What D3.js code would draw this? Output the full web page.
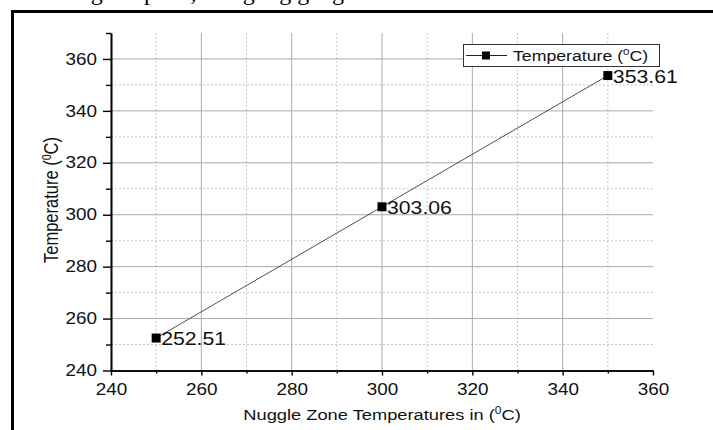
<!DOCTYPE html>
<html>
<head>
  <meta charset="utf-8">
  <title>Nuggle zone temperature</title>
  <script src="https://d3js.org/d3.v7.min.js"></script>
  <style>
    body { margin: 0; background: #fff; }
    svg { display: block; font-family: "Liberation Sans", Arial, sans-serif; }
  </style>
</head>
<body>
<div id="chart"></div>
<script>
// data
const nuggleTemps = [250, 300, 350];
const measuredTemps = [252.51, 303.06, 353.61];
const xMajorTicks = [240, 260, 280, 300, 320, 340, 360];
const xMinorTicks = [250, 270, 290, 310, 330, 350];
const yMajorTicks = [240, 260, 280, 300, 320, 340, 360];
const yMinorTicks = [250, 270, 290, 310, 330, 350, 370];
const seriesName = "Temperature";

const width = 713,
  height = 430,
  SX = 1.18; // text in the source image is stretched sideways

const svg = d3.select("#chart")
  .append("svg")
  .attr("width", width)
  .attr("height", height);

var x = d3.scaleLinear()
  .domain([240, 360])
  .range([111, 653]);
var y = d3.scaleLinear()
  .domain([240, 370])
  .range([370.5, 33]);

// cut off caption line of the page above the figure (only descenders show)
svg.append("text")
  .attr("x", 40)
  .attr("y", 0)
  .style("font-family", "'Liberation Serif', 'Times New Roman', serif")
  .style("font-size", "24px")
  .text("during the plate, using big gauge");

// page frame
svg.append("path")
  .attr("d", "M12.5," + height + "V11.5H" + width)
  .attr("fill", "none")
  .attr("stroke", "#000")
  .attr("stroke-width", 3);

// grid
var grid = svg.append("g");
grid.selectAll(".vminor")
  .data(xMinorTicks)
  .enter().append("line")
  .attr("x1", d => x(d)).attr("x2", d => x(d))
  .attr("y1", y(370)).attr("y2", y(240))
  .attr("stroke", "#c8c8c8")
  .attr("stroke-dasharray", "2,2");
grid.selectAll(".hminor")
  .data(yMinorTicks.filter(d => d < 370))
  .enter().append("line")
  .attr("x1", x(240)).attr("x2", x(360))
  .attr("y1", d => y(d)).attr("y2", d => y(d))
  .attr("stroke", "#c8c8c8")
  .attr("stroke-dasharray", "2,2");
grid.selectAll(".vmajor")
  .data(xMajorTicks.filter(d => d > 240 && d < 360))
  .enter().append("line")
  .attr("x1", d => x(d)).attr("x2", d => x(d))
  .attr("y1", y(370)).attr("y2", y(240))
  .attr("stroke", "#aaaaaa");
grid.selectAll(".hmajor")
  .data(yMajorTicks.filter(d => d > 240))
  .enter().append("line")
  .attr("x1", x(240)).attr("x2", x(360))
  .attr("y1", d => y(d)).attr("y2", d => y(d))
  .attr("stroke", "#aaaaaa");

// axes
function styleAxis(g) {
  g.select(".domain").attr("stroke-width", 1.6);
  g.selectAll(".tick line").attr("stroke-width", 1.4);
  g.selectAll("text").style("font-size", "16px").attr("fill", "#111");
}

svg.append("g")
  .attr("transform", "translate(0," + y(240) + ")")
  .call(d3.axisBottom(x).tickValues(xMinorTicks).tickSize(3).tickSizeOuter(0).tickFormat(""))
  .call(styleAxis);
var xAxis = svg.append("g")
  .attr("transform", "translate(0," + y(240) + ")")
  .call(d3.axisBottom(x).tickValues(xMajorTicks).tickSize(5).tickSizeOuter(0).tickPadding(8).tickFormat(d3.format("d")))
  .call(styleAxis);
xAxis.selectAll("text").attr("transform", "scale(" + SX + ",1)");

svg.append("g")
  .attr("transform", "translate(" + x(240) + ",0)")
  .call(d3.axisLeft(y).tickValues(yMinorTicks).tickSize(5).tickSizeOuter(0).tickFormat(""))
  .call(styleAxis);
var yAxis = svg.append("g")
  .attr("transform", "translate(" + x(240) + ",0)")
  .call(d3.axisLeft(y).tickValues(yMajorTicks).tickSize(8).tickSizeOuter(0).tickPadding(6).tickFormat(d3.format("d")))
  .call(styleAxis);
yAxis.selectAll("text")
  .attr("x", -14 / SX)
  .attr("transform", "scale(" + SX + ",1)");

// axis titles
function degreeLabel(sel, before) {
  sel.append("tspan").text(before + "(");
  sel.append("tspan").text("0").attr("dy", -6).style("font-size", "0.65em");
  sel.append("tspan").text("C)").attr("dy", 6);
}

var xTitle = svg.append("text")
  .attr("transform", "translate(382,420) scale(" + SX + ",1)")
  .attr("text-anchor", "middle")
  .style("font-size", "15.5px")
  .attr("fill", "#111");
degreeLabel(xTitle, "Nuggle Zone Temperatures in ");

var yTitle = svg.append("text")
  .attr("transform", "translate(58,200) scale(" + SX + ",1) rotate(-90)")
  .attr("text-anchor", "middle")
  .style("font-size", "16.5px")
  .attr("fill", "#111");
degreeLabel(yTitle, "Temperature ");

// series
var points = nuggleTemps.map((d, i) => [d, measuredTemps[i]]);

svg.append("path")
  .datum(points)
  .attr("fill", "none")
  .attr("stroke", "#222")
  .attr("stroke-width", 0.8)
  .attr("d", d3.line().x(d => x(d[0])).y(d => y(d[1])));

svg.selectAll(".marker")
  .data(points)
  .enter().append("rect")
  .attr("x", d => x(d[0]) - 4.5)
  .attr("y", d => y(d[1]) - 4.5)
  .attr("width", 9)
  .attr("height", 9)
  .attr("fill", "#000");

svg.selectAll(".label")
  .data(points)
  .enter().append("text")
  .attr("transform", d => "translate(" + (x(d[0]) + 5) + "," + (y(d[1]) + 7) + ") scale(" + SX + ",1)")
  .style("font-size", "18px")
  .attr("fill", "#111")
  .text(d => d[1].toFixed(2));

// legend
var legend = svg.append("g");
legend.append("rect")
  .attr("x", 463.5).attr("y", 44.5)
  .attr("width", 196).attr("height", 22)
  .attr("fill", "#fff")
  .attr("stroke", "#333");
legend.append("line")
  .attr("x1", 466).attr("x2", 507)
  .attr("y1", 55.5).attr("y2", 55.5)
  .attr("stroke", "#222");
legend.append("rect")
  .attr("x", 482).attr("y", 51.5)
  .attr("width", 8).attr("height", 8)
  .attr("fill", "#000");
var legText = legend.append("text")
  .attr("transform", "translate(513,61) scale(" + SX + ",1)")
  .style("font-size", "15px")
  .attr("fill", "#111");
degreeLabel(legText, seriesName + " ");
</script>
</body>
</html>
